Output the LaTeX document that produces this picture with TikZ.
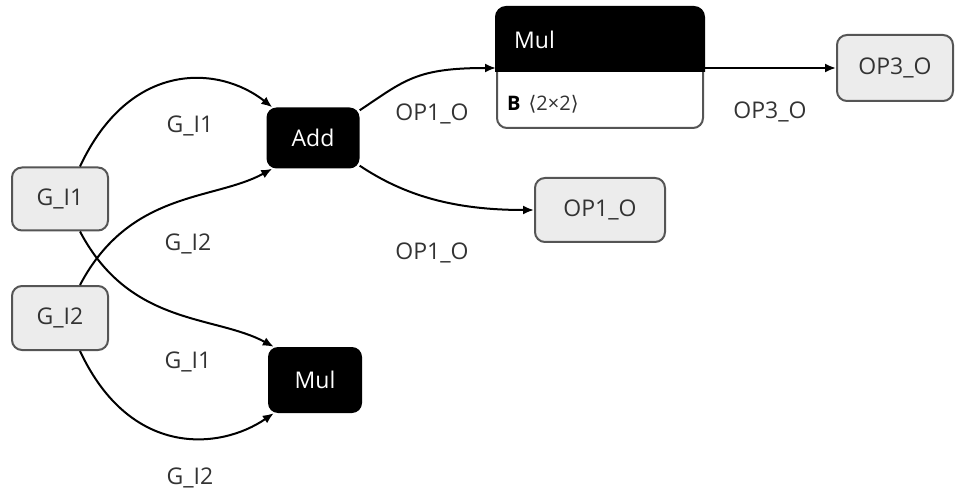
\documentclass[tikz,border=0pt]{standalone}
\usepackage{fontspec}
\setmainfont{Open Sans}
\newfontfamily\symfont{DejaVu Sans}
\usetikzlibrary{arrows.meta,calc}
\definecolor{nodegray}{HTML}{ECECEC}
\definecolor{framegray}{HTML}{555555}
\definecolor{textgray}{HTML}{333333}

\begin{document}
\begin{tikzpicture}[
    x=1pt, y=-1pt,
    font=\fontsize{23}{27}\selectfont,
    io/.style={draw=framegray, line width=2pt, rounded corners=10pt,
               fill=nodegray, text=textgray, inner sep=0pt},
    op/.style={fill=black, text=white, rounded corners=10pt, inner sep=0pt},
    lbl/.style={text=textgray, inner sep=0pt},
    arr/.style={-{Latex[length=11pt,width=9pt]}, line width=2pt},
  ]
  \useasboundingbox (0,0) rectangle (963,494);

  \node[io, minimum width=96pt, minimum height=63pt] (gi1) at (60,199) {G\_I1};
  \node[io, minimum width=96pt, minimum height=64pt] (gi2) at (60,318) {G\_I2};
  \node[op, minimum width=93pt, minimum height=61pt] (add) at (313,138) {Add};
  \node[op, minimum width=94pt, minimum height=66pt] (mul1) at (315,380) {Mul};
  \node[io, minimum width=130pt, minimum height=64pt] (op1) at (600,210) {OP1\_O};
  \node[io, minimum width=116pt, minimum height=66pt] (op3) at (895,68) {OP3\_O};

  % Mul with its attribute
  \node[draw=framegray, line width=2pt, rounded corners=10pt, fill=white,
        minimum width=206pt, minimum height=120pt, inner sep=0pt] (mul2) at (600,68) {};
  \begin{scope}
    \clip ([xshift=-3pt,yshift=3pt]mul2.north west) rectangle ($(mul2.east)+(3,4)$);
    \filldraw[black, line width=2pt, rounded corners=10pt]
      (mul2.north west) rectangle (mul2.south east);
  \end{scope}
  \node[anchor=west, text=white, inner sep=0pt] (mul2name) at ($(mul2.north west)+(18,33)$) {Mul};
  \node[anchor=west, inner sep=0pt, font=\fontsize{20}{24}\selectfont] (mul2attr)
    at ($(mul2.north west)+(11,97)$) {\textbf{B}\hspace{8pt}{\color{textgray}\symfont ⟨}{\color{textgray}2×2}{\color{textgray}\symfont ⟩}};

  \draw[arr] ([xshift=20pt]gi1.north) .. controls +(50,-107) and +(-53,-42) .. ([xshift=6pt]add.north west);
  \draw[arr] ([xshift=20pt]gi2.north) .. controls +(50,-95) and +(-58,32) .. ([xshift=6pt]add.south west);
  \draw[arr] ([xshift=20pt]gi1.south) .. controls +(50,95) and +(-59,-32) .. ([xshift=6pt]mul1.north west);
  \draw[arr] ([xshift=20pt]gi2.south) .. controls +(50,107) and +(-54,37) .. ([xshift=6pt]mul1.south west);
  \draw[arr] ([yshift=-3pt]add.north east) .. controls +(45,-30) and +(-80,0) .. (mul2.west);
  \draw[arr] ([yshift=3pt]add.south east) .. controls +(45,30) and +(-80,0) .. (op1.west);
  \draw[arr] (mul2.east) -- (op3.west);

  \node[lbl] (l1) at (190,126) {G\_I1};
  \node[lbl] (l2) at (188,244) {G\_I2};
  \node[lbl] (l3) at (188,362) {G\_I1};
  \node[lbl] (l4) at (190,478) {G\_I2};
  \node[lbl] (l5) at (432,114) {OP1\_O};
  \node[lbl] (l6) at (432,253) {OP1\_O};
  \node[lbl] (l7) at (770,112) {OP3\_O};
\end{tikzpicture}
\end{document}
